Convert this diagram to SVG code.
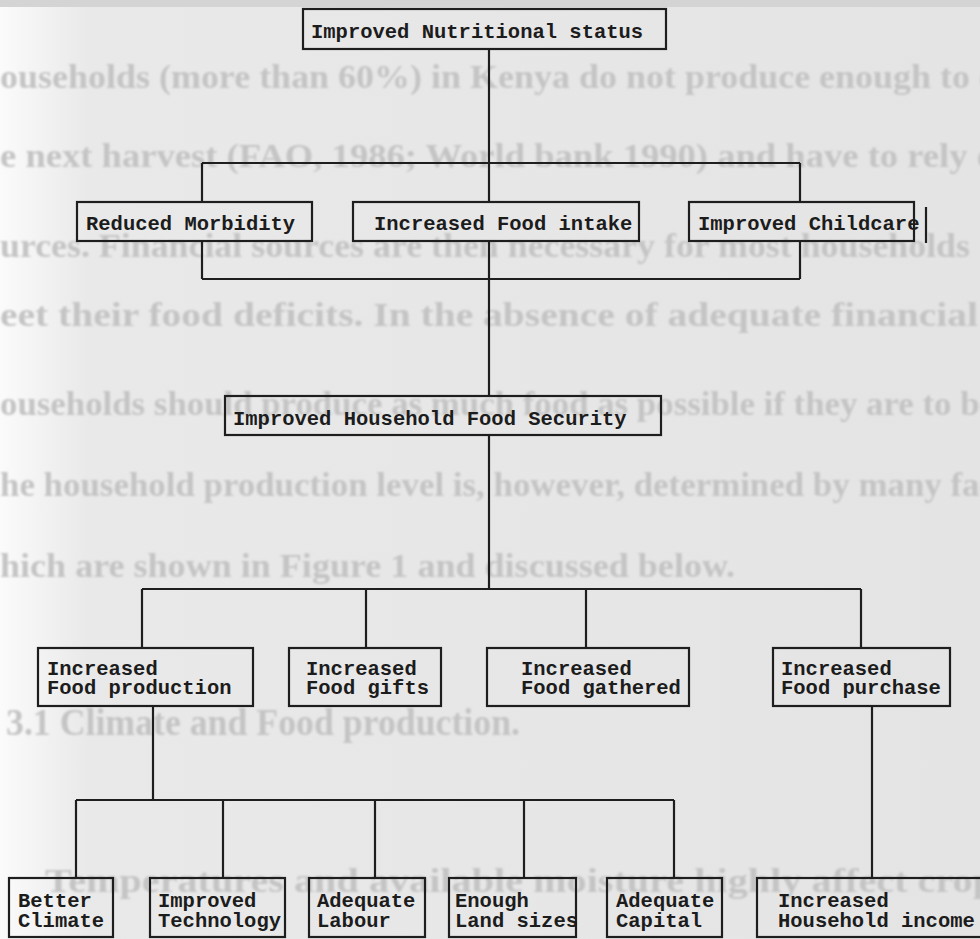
<svg xmlns="http://www.w3.org/2000/svg" width="980" height="939" viewBox="0 0 980 939">
<defs>
<linearGradient id="bg" x1="0" y1="0" x2="1" y2="0">
<stop offset="0" stop-color="#fbfbfb"/>
<stop offset="0.09" stop-color="#e9e9e9"/>
<stop offset="1" stop-color="#e4e4e4"/>
</linearGradient>
<filter id="soft" x="-2%" y="-20%" width="104%" height="140%">
<feGaussianBlur stdDeviation="0.9"/>
</filter>
<style>
.box{fill:none;stroke:#1e1e1e;stroke-width:2.2}
.conn line{stroke:#1e1e1e;stroke-width:2.2}
.lbl{font-family:"Liberation Mono","DejaVu Sans Mono",monospace;font-size:20.5px;font-weight:bold;fill:#1c1c1c}
.bleed{font-family:"Liberation Serif","DejaVu Serif",serif;font-size:34px;font-weight:bold;fill:#c4c4c4}
</style>
</defs>
<rect x="0" y="0" width="980" height="939" fill="url(#bg)"/>
<rect x="0" y="0" width="980" height="7" fill="#d4d4d4"/>
<g id="background-text" filter="url(#soft)">
<text class="bleed" x="0" y="88" textLength="995" lengthAdjust="spacingAndGlyphs">ouseholds (more than 60%) in Kenya do not produce enough to c</text>
<text class="bleed" x="0" y="167" textLength="995" lengthAdjust="spacingAndGlyphs">e next harvest (FAO, 1986; World bank 1990) and have to rely o</text>
<text class="bleed" x="0" y="257" textLength="970" lengthAdjust="spacingAndGlyphs">urces. Financial sources are then necessary for most households</text>
<text class="bleed" x="0" y="326" textLength="978" lengthAdjust="spacingAndGlyphs">eet their food deficits.  In the absence of adequate financial</text>
<text class="bleed" x="0" y="415" textLength="995" lengthAdjust="spacingAndGlyphs">ouseholds should produce as much food as possible if they are to be</text>
<text class="bleed" x="0" y="496" textLength="995" lengthAdjust="spacingAndGlyphs">he household production level is, however, determined by many fac</text>
<text class="bleed" x="0" y="577" textLength="735" lengthAdjust="spacingAndGlyphs">hich are shown in Figure 1 and discussed below.</text>
<text class="bleed" x="6" y="735" textLength="514" lengthAdjust="spacingAndGlyphs" style="font-size:37px">3.1  Climate and Food production.</text>
<text class="bleed" x="45" y="892" textLength="950" lengthAdjust="spacingAndGlyphs">Temperatures and available moisture highly affect crop</text>
</g>
<g id="connectors" class="conn">
<line x1="489" y1="49" x2="489" y2="163"/>
<line x1="202" y1="163" x2="800" y2="163"/>
<line x1="202" y1="163" x2="202" y2="202"/>
<line x1="489" y1="163" x2="489" y2="202"/>
<line x1="800" y1="163" x2="800" y2="202"/>
<line x1="202" y1="241" x2="202" y2="279"/>
<line x1="800" y1="241" x2="800" y2="279"/>
<line x1="202" y1="279" x2="800" y2="279"/>
<line x1="489" y1="241" x2="489" y2="396"/>
<line x1="489" y1="435" x2="489" y2="589"/>
<line x1="142" y1="589" x2="861" y2="589"/>
<line x1="142" y1="589" x2="142" y2="648"/>
<line x1="366" y1="589" x2="366" y2="648"/>
<line x1="586" y1="589" x2="586" y2="648"/>
<line x1="861" y1="589" x2="861" y2="648"/>
<line x1="153" y1="706" x2="153" y2="800"/>
<line x1="76" y1="800" x2="674" y2="800"/>
<line x1="76" y1="800" x2="76" y2="878"/>
<line x1="223" y1="800" x2="223" y2="878"/>
<line x1="375" y1="800" x2="375" y2="878"/>
<line x1="524" y1="800" x2="524" y2="878"/>
<line x1="674" y1="800" x2="674" y2="878"/>
<line x1="872" y1="706" x2="872" y2="878"/>
</g>
<g id="n-nutrition">
<rect class="box" x="303" y="9" width="363" height="40"/>
<text class="lbl" x="311" y="38">Improved Nutritional status</text>
</g>
<g id="n-morbidity">
<rect class="box" x="77" y="202" width="235" height="39"/>
<text class="lbl" x="86" y="230">Reduced Morbidity</text>
</g>
<g id="n-intake">
<rect class="box" x="353" y="202" width="286" height="39"/>
<text class="lbl" x="374" y="230">Increased Food intake</text>
</g>
<g id="n-childcare">
<rect class="box" x="689" y="202" width="225" height="39"/>
<line x1="926" y1="207" x2="926" y2="243" stroke="#1e1e1e" stroke-width="2.2"/>
<text class="lbl" x="698" y="230">Improved Childcare</text>
</g>
<g id="n-security">
<rect class="box" x="225" y="396" width="436" height="39"/>
<text class="lbl" x="233" y="425">Improved Household Food Security</text>
</g>
<g id="n-production">
<rect class="box" x="38" y="648" width="215" height="58"/>
<text class="lbl" x="47" y="675">Increased</text>
<text class="lbl" x="47" y="694">Food production</text>
</g>
<g id="n-gifts">
<rect class="box" x="289" y="648" width="152" height="58"/>
<text class="lbl" x="306" y="675">Increased</text>
<text class="lbl" x="306" y="694">Food gifts</text>
</g>
<g id="n-gathered">
<rect class="box" x="487" y="648" width="202" height="58"/>
<text class="lbl" x="521" y="675">Increased</text>
<text class="lbl" x="521" y="694">Food gathered</text>
</g>
<g id="n-purchase">
<rect class="box" x="773" y="648" width="177" height="58"/>
<text class="lbl" x="781" y="675">Increased</text>
<text class="lbl" x="781" y="694">Food purchase</text>
</g>
<g id="n-climate">
<rect class="box" x="9" y="878" width="104" height="59"/>
<text class="lbl" x="18" y="907">Better</text>
<text class="lbl" x="18" y="927">Climate</text>
</g>
<g id="n-technology">
<rect class="box" x="150" y="878" width="135" height="59"/>
<text class="lbl" x="158" y="907">Improved</text>
<text class="lbl" x="158" y="927">Technology</text>
</g>
<g id="n-labour">
<rect class="box" x="309" y="878" width="116" height="59"/>
<text class="lbl" x="317" y="907">Adequate</text>
<text class="lbl" x="317" y="927">Labour</text>
</g>
<g id="n-land">
<rect class="box" x="449" y="878" width="127" height="59"/>
<text class="lbl" x="455" y="907">Enough</text>
<text class="lbl" x="455" y="927">Land sizes</text>
</g>
<g id="n-capital">
<rect class="box" x="607" y="878" width="115" height="59"/>
<text class="lbl" x="616" y="907">Adequate</text>
<text class="lbl" x="616" y="927">Capital</text>
</g>
<g id="n-income">
<rect class="box" x="757" y="878" width="230" height="59"/>
<text class="lbl" x="778" y="907">Increased</text>
<text class="lbl" x="778" y="927">Household income</text>
</g>
</svg>
